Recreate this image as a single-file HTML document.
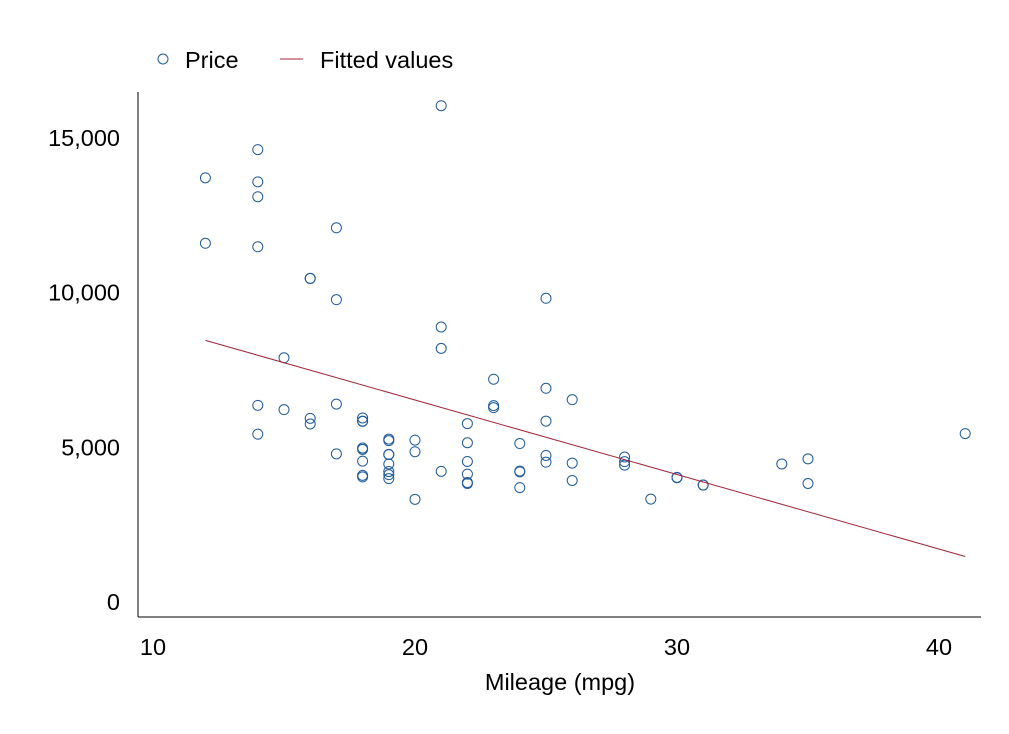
<!DOCTYPE html>
<html><head><meta charset="utf-8"><style>
html,body{margin:0;padding:0;background:#fff}
svg{display:block;font-family:"Liberation Sans",Arial,sans-serif}
</style></head><body>
<svg id="chart" width="1009" height="734">
<rect width="1009" height="734" fill="#fff"/>
<g>
<circle cx="163" cy="59" r="5" fill="none" stroke="#1f5a9a" stroke-width="1"/>
<text x="185" y="68" font-size="23.5" fill="#000">Price</text>
<line x1="280" y1="59" x2="303" y2="59" stroke="#a0263a" stroke-width="1"/>
<text x="320" y="68" font-size="23.5" fill="#000">Fitted values</text>
</g>
<line x1="138" y1="92" x2="138" y2="617" stroke="#000"/>
<line x1="138" y1="617" x2="981" y2="617" stroke="#000"/>
<text x="560" y="690" font-size="23.5" text-anchor="middle">Mileage (mpg)</text>
<g id="ticks"></g><g id="marks"></g>
</svg>
<script>
const mpg=[22,17,22,20,15,18,26,20,16,19,14,14,21,29,16,22,22,24,19,30,18,16,17,28,21,12,12,14,22,14,15,18,14,20,21,19,19,18,19,24,16,28,34,25,26,18,18,18,19,19,19,24,17,23,25,23,35,24,21,31,25,28,30,14,26,35,18,31,22,23,41,25,25,17];
const price=[4099,4749,3799,4816,7827,5788,4453,5189,10372,4082,11385,14500,15906,3299,5705,4504,5104,3667,3955,3984,4010,5886,6342,4389,4187,11497,13594,13466,3829,5379,6165,4516,6303,3291,8814,5172,4733,4890,4181,4195,10371,4647,4425,4482,6486,4060,5798,4934,5222,4723,4424,4172,9690,6295,9735,6229,4589,5079,8129,3748,5799,4499,3995,12990,3895,3798,5899,3748,5719,7140,5397,4697,6850,11995];
const xTicks=[10,20,30,40];
const yTicks=[0,5000,10000,15000];
const yTickLabels=["0","5,000","10,000","15,000"];
const fitIntercept=11253.06, fitSlope=-238.8943;
const fitRange=[12,41];
const X=v=>153+(v-10)*26.2;
const Y=v=>602-v*0.0312;
const YL=v=>602-v*0.03093;
const NS="http://www.w3.org/2000/svg";
const ticks=document.getElementById('ticks'), marks=document.getElementById('marks');
xTicks.forEach(t=>{const e=document.createElementNS(NS,'text');e.setAttribute('x',X(t));e.setAttribute('y',655);e.setAttribute('font-size','23.5');e.setAttribute('text-anchor','middle');e.textContent=t;


ticks.appendChild(e);});
yTicks.forEach((t,i)=>{const e=document.createElementNS(NS,'text');e.setAttribute('x',120);e.setAttribute('y',YL(t)+8);e.setAttribute('font-size','23.5');e.setAttribute('text-anchor','end');e.textContent=yTickLabels[i];


ticks.appendChild(e);});
mpg.forEach((m,i)=>{const c=document.createElementNS(NS,'circle');c.setAttribute('cx',X(m));c.setAttribute('cy',Y(price[i]));c.setAttribute('r',5);c.setAttribute('fill','none');c.setAttribute('stroke','#1f5a9a');c.setAttribute('stroke-width','1');


marks.appendChild(c);});
const l=document.createElementNS(NS,'line');
l.setAttribute('x1',X(fitRange[0]));l.setAttribute('y1',Y(fitIntercept+fitSlope*fitRange[0]));
l.setAttribute('x2',X(fitRange[1]));l.setAttribute('y2',Y(fitIntercept+fitSlope*fitRange[1]));
l.setAttribute('stroke','#a0263a');l.setAttribute('stroke-width','1');


marks.appendChild(l);
</script>
</body></html>
